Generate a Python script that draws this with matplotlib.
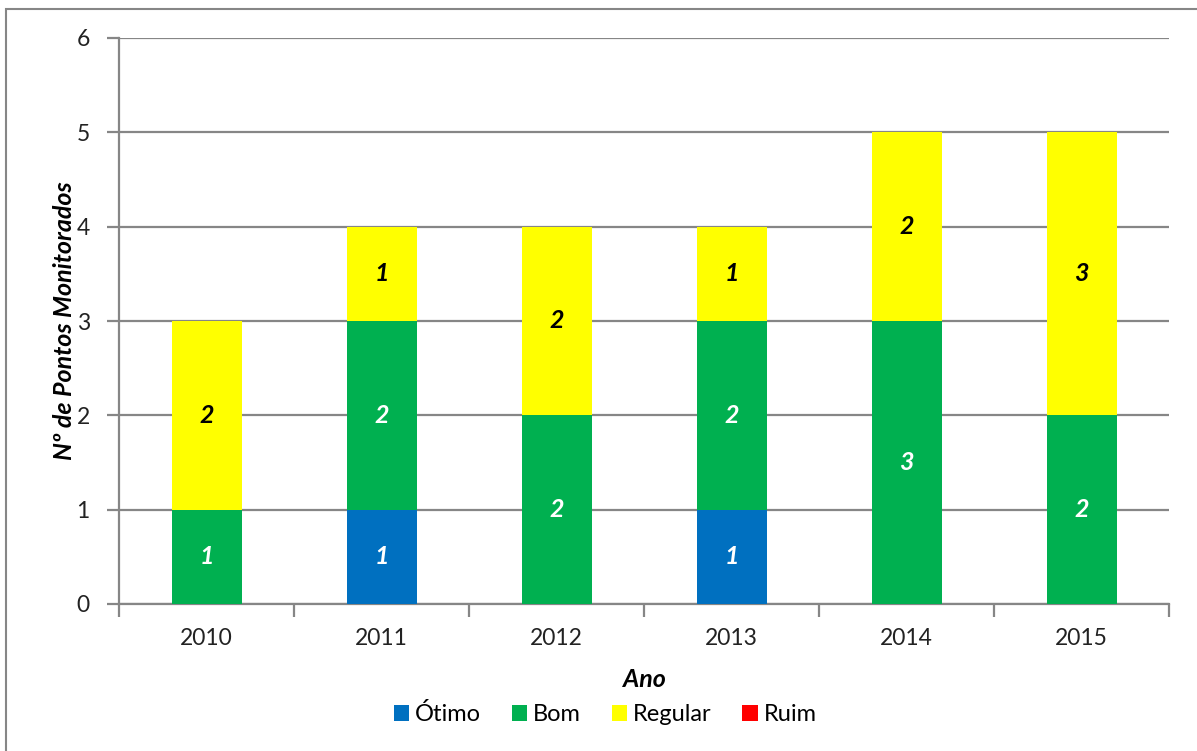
import matplotlib
matplotlib.use("Agg")
import matplotlib.pyplot as plt
from matplotlib.patches import Rectangle
import numpy as np

plt.rcParams['font.family'] = ['Lato', 'DejaVu Sans']

anos = ['2010', '2011', '2012', '2013', '2014', '2015']
otimo = [0, 1, 0, 1, 0, 0]
bom = [1, 2, 2, 2, 3, 2]
regular = [2, 1, 2, 1, 2, 3]
ruim = [0, 0, 0, 0, 0, 0]

series = [('Ótimo', otimo, '#0070C0', 'white'),
          ('Bom', bom, '#00B050', 'white'),
          ('Regular', regular, '#FFFF00', 'black'),
          ('Ruim', ruim, '#FF0000', 'white')]

W, H = 1197, 751
fig = plt.figure(figsize=(W / 100, H / 100), dpi=100)
fig.patches.append(Rectangle((6 / W, -0.1), 1.2, 1 - 9 / H + 0.1, transform=fig.transFigure,
                             fill=False, edgecolor='#868686', linewidth=1.5))
ax = fig.add_axes([119 / W, (H - 604) / H, 1050 / W, 566 / H])

x = np.arange(len(anos))
bottom = np.zeros(len(anos))
for name, vals, color, tcolor in series:
    vals = np.array(vals, dtype=float)
    ax.bar(x, vals, 0.4, bottom=bottom, color=color, label=name, zorder=3)
    for xi, v, b in zip(x, vals, bottom):
        if v > 0:
            ax.text(xi, b + v / 2, f'{int(v)}', ha='center', va='center', color=tcolor,
                    fontsize=18, fontweight='bold', fontstyle='italic', zorder=4)
    bottom += vals

ax.set_xlim(-0.5, len(anos) - 0.5)
ax.set_ylim(0, 6)
ax.set_yticks(range(0, 7))
ax.yaxis.grid(True, color='#868686', linewidth=1.6, zorder=0)
ax.set_xticks(x)
ax.set_xticklabels(anos)
ax.set_xticks(np.arange(-0.5, len(anos)), minor=True)
ax.tick_params(axis='x', which='major', length=0, pad=17, labelsize=16.5, colors='#222222')
ax.tick_params(axis='x', which='minor', length=9, width=1.6, color='#868686', direction='out')
ax.tick_params(axis='y', length=9, width=1.6, color='#868686', pad=12, labelsize=16.5, labelcolor='#222222')
for s in ['top', 'right']:
    ax.spines[s].set_visible(False)
for s in ['left', 'bottom']:
    ax.spines[s].set_color('#868686')
    ax.spines[s].set_linewidth(1.6)

ax.set_xlabel('Ano', fontsize=18, fontweight='bold', fontstyle='italic', labelpad=14)
ax.set_ylabel('Nº de Pontos Monitorados', fontsize=18, fontweight='bold', fontstyle='italic', labelpad=0)

ax.legend(loc='center', bbox_to_anchor=(0.463, -0.195), ncol=4, frameon=False,
          fontsize=17, handlelength=0.65, handleheight=0.65, handletextpad=0.25, columnspacing=1.3)

fig.savefig('out.png', dpi=100)
